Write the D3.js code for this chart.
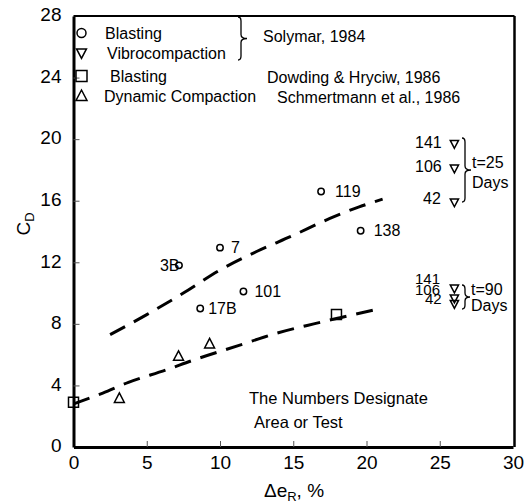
<!DOCTYPE html>
<html><head><meta charset="utf-8">
<script src="https://cdn.jsdelivr.net/npm/d3@7"></script>
<style>
html,body{margin:0;padding:0;background:#fff;}
svg{display:block;font-family:Arial,"Liberation Sans",sans-serif;}
</style></head>
<body><svg id="c" width="528" height="503"></svg>
<script>
// ---- data ----
const xTicks = [0,5,10,15,20,25,30];
const yTicks = [0,4,8,12,16,20,24,28];

// Solymar blasting (circles)
const blastX = [7.2, 10.0, 11.6, 8.65, 16.9, 19.6];
const blastY = [11.8, 12.95, 10.1, 9.0, 16.6, 14.05];
const blastLabels = ["3B","7","101","17B","119","138"];

// Solymar vibrocompaction (inverted triangles)
const vibroX = [26, 26, 26, 26, 26, 26];
const vibroY = [19.7, 18.1, 15.9, 10.3, 9.66, 9.3];
const vibroLabels = ["141","106","42","141","106","42"];

// Dowding & Hryciw blasting (squares)
const dowX = [0, 17.95];
const dowY = [2.9, 8.6];

// Schmertmann dynamic compaction (triangles)
const dynX = [3.13, 7.17, 9.29];
const dynY = [3.16, 5.9, 6.7];

// dashed trend lines
const upperX = [2.5, 5, 7.5, 10, 12.5, 15, 17.5, 19.5, 21.1];
const upperY = [7.3, 8.6, 10.0, 11.5, 12.7, 13.75, 14.85, 15.6, 16.1];
const lowerX = [0, 2, 3.75, 6.3, 8.2, 11.3, 13.9, 16.4, 18.2, 21];
const lowerY = [2.8, 3.5, 4.2, 5.0, 5.65, 6.6, 7.4, 8.0, 8.4, 9.0];

const legendNames = ["Blasting","Vibrocompaction","Blasting","Dynamic Compaction"];
const legendSources = ["Solymar, 1984","Dowding & Hryciw, 1986","Schmertmann et al., 1986"];

// ---- drawing ----
const svg = d3.select("#c");
const L = 73.5, R = 513, T = 16, B = 447;
const x = d3.scaleLinear().domain([0,30]).range([L,R]);
const y = d3.scaleLinear().domain([0,28]).range([B,T]);

// frame top & right
svg.append("line").attr("x1",L).attr("x2",R+1.5).attr("y1",T).attr("y2",T).attr("stroke","#000").attr("stroke-width",2);
svg.append("line").attr("x1",R+1.5).attr("x2",R+1.5).attr("y1",T).attr("y2",B).attr("stroke","#000").attr("stroke-width",2.5);

// axes
const xAxis = d3.axisBottom(x).tickValues(xTicks).tickSizeInner(-6).tickSizeOuter(0).tickPadding(12);
const yAxis = d3.axisLeft(y).tickValues(yTicks).tickSizeInner(-6).tickSizeOuter(0).tickPadding(12);
const gx = svg.append("g").attr("transform",`translate(0,${B})`).call(xAxis);
const gy = svg.append("g").attr("transform",`translate(${L},0)`).call(yAxis);
[gx,gy].forEach(g=>{
  g.select(".domain").attr("stroke","#000").attr("stroke-width",3);
  g.selectAll(".tick line").attr("stroke","#555").attr("stroke-width",1);
  g.selectAll(".tick text").attr("font-size",19).attr("font-family","Arial, 'Liberation Sans', sans-serif").attr("fill","#000");
});
gx.selectAll(".tick text").attr("dy","0.55em");
gy.selectAll(".tick text").attr("dy","0.25em").attr("dx","0");
gx.selectAll(".tick").filter(d=>d===0||d===30).select("line").remove();
gy.selectAll(".tick").filter(d=>d===0||d===28).select("line").remove();

// axis titles
const xt = svg.append("text").attr("x",294).attr("y",497).attr("text-anchor","middle").attr("font-size",19);
xt.append("tspan").text("Δe");
xt.append("tspan").attr("font-size",13).attr("dy",4).text("R");
xt.append("tspan").attr("dy",-4).text(", %");
const yt = svg.append("text").attr("transform","translate(30,224) rotate(-90)").attr("text-anchor","middle").attr("font-size",19);
yt.append("tspan").text("C");
yt.append("tspan").attr("font-size",13).attr("dy",4).text("D");

// trend lines
const line = d3.line().x(d=>x(d[0])).y(d=>y(d[1])).curve(d3.curveMonotoneX);
svg.append("path").datum(upperX.map((v,i)=>[v,upperY[i]])).attr("d",line)
  .attr("fill","none").attr("stroke","#000").attr("stroke-width",3).attr("stroke-dasharray","17,10");
svg.append("path").datum(lowerX.map((v,i)=>[v,lowerY[i]])).attr("d",line)
  .attr("fill","none").attr("stroke","#000").attr("stroke-width",3).attr("stroke-dasharray","17,10");

// symbols
const triUp = s => `M0,${-s*0.6}L${s*0.55},${s*0.45}L${-s*0.55},${s*0.45}Z`;
const triDown = s => `M0,${s*0.6}L${s*0.55},${-s*0.45}L${-s*0.55},${-s*0.45}Z`;
const sq = s => `M${-s/2},${-s/2}h${s}v${s}h${-s}Z`;

const mk = {fill:"none",stroke:"#000","stroke-width":1.5};
function sty(sel){Object.entries(mk).forEach(([k,v])=>sel.attr(k,v));return sel;}

sty(svg.append("g").selectAll("circle").data(blastX).join("circle")
  .attr("cx",d=>x(d)).attr("cy",(d,i)=>y(blastY[i])).attr("r",3.2));
sty(svg.append("g").selectAll("path").data(vibroX).join("path")
  .attr("transform",(d,i)=>`translate(${x(d)},${y(vibroY[i])})`).attr("d",triDown(7.5)));
sty(svg.append("g").selectAll("path").data(dowX).join("path")
  .attr("transform",(d,i)=>`translate(${x(d)},${y(dowY[i])})`).attr("d",sq(10)));
sty(svg.append("g").selectAll("path").data(dynX).join("path")
  .attr("transform",(d,i)=>`translate(${x(d)},${y(dynY[i])})`).attr("d",triUp(9)));

// point labels
const blastLabOff = [[-19,0],[11,0],[11,0],[8,0],[14,0],[13,0]];
svg.append("g").selectAll("text").data(blastLabels).join("text")
  .attr("x",(d,i)=>x(blastX[i])+blastLabOff[i][0]).attr("y",(d,i)=>y(blastY[i])+blastLabOff[i][1])
  .attr("dy","0.35em").attr("font-size",16).text(d=>d);
const vibroLabPos = [[415,142],[415,166],[423,198],[415,279],[415,290],[425,299]];
const vibroFont = [16,16,16,15,15,15];
svg.append("g").selectAll("text").data(vibroLabels).join("text")
  .attr("x",(d,i)=>vibroLabPos[i][0]).attr("y",(d,i)=>vibroLabPos[i][1])
  .attr("dy","0.35em").attr("font-size",(d,i)=>vibroFont[i]).text(d=>d);

// braces
function brace(xb, y0, y1, w){
  const ym=(y0+y1)/2;
  return `M${xb-3},${y0}Q${xb},${y0} ${xb},${y0+4}L${xb},${ym-4}Q${xb},${ym} ${xb+w},${ym}Q${xb},${ym} ${xb},${ym+4}L${xb},${y1-4}Q${xb},${y1} ${xb-3},${y1}`;
}
svg.append("path").attr("d",brace(465,138,202,6)).attr("fill","none").attr("stroke","#000").attr("stroke-width",1.3);
svg.append("path").attr("d",brace(465,285,309,5)).attr("fill","none").attr("stroke","#000").attr("stroke-width",1.3);
svg.append("path").attr("d",brace(241,17,60,6)).attr("fill","none").attr("stroke","#000").attr("stroke-width",1.3);

const annFont = 16;
svg.append("text").attr("x",472).attr("y",162).attr("dy","0.35em").attr("font-size",annFont).text("t=25");
svg.append("text").attr("x",472).attr("y",182).attr("dy","0.35em").attr("font-size",annFont).text("Days");
svg.append("text").attr("x",471).attr("y",289).attr("dy","0.35em").attr("font-size",annFont).text("t=90");
svg.append("text").attr("x",471).attr("y",305).attr("dy","0.35em").attr("font-size",annFont).text("Days");

// note
svg.append("text").attr("x",249).attr("y",398).attr("dy","0.35em").attr("font-size",16.5).text("The Numbers Designate");
svg.append("text").attr("x",254).attr("y",422).attr("dy","0.35em").attr("font-size",16.5).text("Area or Test");

// legend
const legY = [33,53,76,96];
const legTX = [105,107,110,104];
const legSym = [null, triDown(9), sq(11), triUp(10)];
const lg = svg.append("g");
sty(lg.append("circle").attr("cx",81.5).attr("cy",legY[0]).attr("r",4.5));
[1,2,3].forEach(i=>sty(lg.append("path").attr("transform",`translate(81.5,${legY[i]})`).attr("d",legSym[i])));
lg.selectAll("text.n").data(legendNames).join("text").attr("class","n")
  .attr("x",(d,i)=>legTX[i]).attr("y",(d,i)=>legY[i]).attr("dy","0.35em").attr("font-size",16).text(d=>d);
const srcPos = [[263,36],[267,77],[277,97]];
lg.selectAll("text.s").data(legendSources).join("text").attr("class","s")
  .attr("x",(d,i)=>srcPos[i][0]).attr("y",(d,i)=>srcPos[i][1]).attr("dy","0.35em").attr("font-size",16).text(d=>d);
</script></body></html>
